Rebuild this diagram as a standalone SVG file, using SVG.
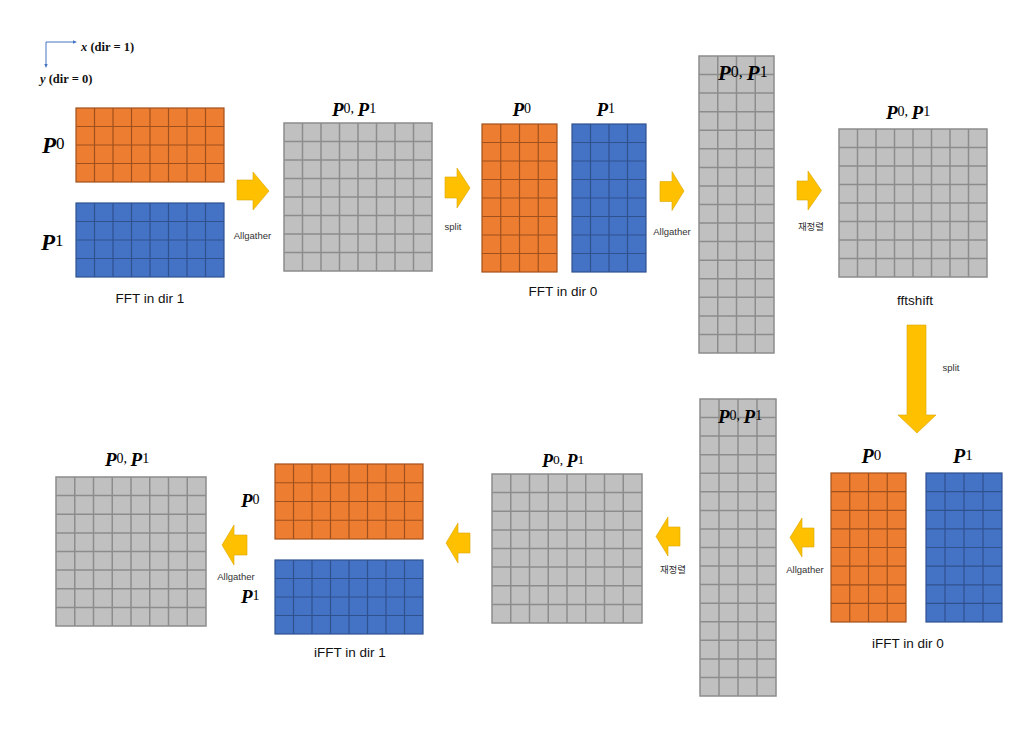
<svg xmlns="http://www.w3.org/2000/svg" width="1024" height="745" viewBox="0 0 1024 745">
<style>
.o{fill:#ED7D31;stroke:#A0501C;stroke-width:1.2}
.b{fill:#4472C4;stroke:#2F528F;stroke-width:1.2}
.g{fill:#C0C0C0;stroke:#8C8C8C;stroke-width:1.5}
.ol{fill:none;stroke:#A0501C;stroke-width:1.2}
.bl{fill:none;stroke:#2F528F;stroke-width:1.2}
.gl{fill:none;stroke:#8C8C8C;stroke-width:1.5}
.arr{fill:#FFC000;stroke:#D9A400;stroke-width:0.6}
.pl{font-family:"Liberation Serif",serif;fill:#000}
.P{font-weight:bold;font-style:italic}
.lab{font-family:"Liberation Sans",sans-serif;font-size:13.5px;fill:#111;text-anchor:middle}
.sm{font-family:"Liberation Sans",sans-serif;font-size:9.5px;fill:#333;text-anchor:middle}
.kr{font-family:"Liberation Sans","Noto Sans CJK KR",sans-serif;font-size:9.5px;fill:#333;text-anchor:middle}
.ax{font-family:"Liberation Serif",serif;font-size:12.5px;font-weight:bold;fill:#111}
</style>

<g id="axes">
<path d="M74 42H46V65" fill="none" stroke="#4472C4" stroke-width="1"/>
<polygon points="77,42 73,40.3 73,43.7" fill="#4472C4"/>
<polygon points="46,68 44.3,64 47.7,64" fill="#4472C4"/>
<text class="ax" x="81" y="51"><tspan font-style="italic">x</tspan> (dir = 1)</text>
<text class="ax" x="40" y="83"><tspan font-style="italic">y</tspan> (dir = 0)</text>
</g>

<g id="fft-dir1-p0">
<rect class="o" x="76" y="108" width="148" height="74"/>
<path class="ol" d="M94.5 108V182M113 108V182M131.5 108V182M150 108V182M168.5 108V182M187 108V182M205.5 108V182M76 126.5H224M76 145H224M76 163.5H224"/>
<text class="pl" x="42" y="153" font-size="23"><tspan class="P">P</tspan><tspan font-size="17" dy="-3.7">0</tspan></text>
</g>
<g id="fft-dir1-p1">
<rect class="b" x="76" y="203" width="148" height="74"/>
<path class="bl" d="M94.5 203V277M113 203V277M131.5 203V277M150 203V277M168.5 203V277M187 203V277M205.5 203V277M76 221.5H224M76 240H224M76 258.5H224"/>
<text class="pl" x="41" y="250" font-size="23"><tspan class="P">P</tspan><tspan font-size="17" dy="-3.7">1</tspan></text>
<text class="lab" x="150" y="303">FFT in dir 1</text>
</g>

<g id="gather1">
<rect class="g" x="284" y="123" width="148" height="148"/>
<path class="gl" d="M302.5 123V271M321 123V271M339.5 123V271M358 123V271M376.5 123V271M395 123V271M413.5 123V271M284 141.5H432M284 160H432M284 178.5H432M284 197H432M284 215.5H432M284 234H432M284 252.5H432"/>
<text class="pl" x="332" y="116" font-size="19"><tspan class="P">P</tspan><tspan font-size="14" dy="-3">0, </tspan><tspan class="P" dy="3">P</tspan><tspan font-size="14" dy="-3">1</tspan></text>
</g>

<g id="fft-dir0-p0">
<rect class="o" x="482" y="124" width="75" height="148"/>
<path class="ol" d="M500.75 124V272M519.5 124V272M538.25 124V272M482 142.5H557M482 161H557M482 179.5H557M482 198H557M482 216.5H557M482 235H557M482 253.5H557"/>
<text class="pl" x="512.5" y="116" font-size="19"><tspan class="P">P</tspan><tspan font-size="14" dy="-3">0</tspan></text>
</g>
<g id="fft-dir0-p1">
<rect class="b" x="572" y="124" width="74" height="148"/>
<path class="bl" d="M590.5 124V272M609 124V272M627.5 124V272M572 142.5H646M572 161H646M572 179.5H646M572 198H646M572 216.5H646M572 235H646M572 253.5H646"/>
<text class="pl" x="596.5" y="116" font-size="19"><tspan class="P">P</tspan><tspan font-size="14" dy="-3">1</tspan></text>
<text class="lab" x="563" y="296">FFT in dir 0</text>
</g>

<g id="gather-tall1">
<rect class="g" x="699" y="56" width="75" height="297"/>
<path class="gl" d="M717.75 56V353M736.5 56V353M755.25 56V353M699 74.6H774M699 93.1H774M699 111.7H774M699 130.3H774M699 148.8H774M699 167.4H774M699 185.9H774M699 204.5H774M699 223.1H774M699 241.6H774M699 260.2H774M699 278.8H774M699 297.3H774M699 315.9H774M699 334.4H774"/>
<text class="pl" x="718" y="80" font-size="21"><tspan class="P">P</tspan><tspan font-size="16" dy="-3.3">0, </tspan><tspan class="P" dy="3.3">P</tspan><tspan font-size="16" dy="-3.3">1</tspan></text>
</g>

<g id="fftshift">
<rect class="g" x="839" y="129" width="148" height="148"/>
<path class="gl" d="M857.5 129V277M876 129V277M894.5 129V277M913 129V277M931.5 129V277M950 129V277M968.5 129V277M839 147.5H987M839 166H987M839 184.5H987M839 203H987M839 221.5H987M839 240H987M839 258.5H987"/>
<text class="pl" x="886" y="119" font-size="19"><tspan class="P">P</tspan><tspan font-size="14" dy="-3">0, </tspan><tspan class="P" dy="3">P</tspan><tspan font-size="14" dy="-3">1</tspan></text>
<text class="lab" x="915" y="305">fftshift</text>
</g>

<g id="ifft-dir0-p0">
<rect class="o" x="831" y="473" width="75" height="149"/>
<path class="ol" d="M849.75 473V622M868.5 473V622M887.25 473V622M831 491.6H906M831 510.3H906M831 528.9H906M831 547.5H906M831 566.1H906M831 584.8H906M831 603.4H906"/>
<text class="pl" x="861.5" y="463" font-size="20"><tspan class="P">P</tspan><tspan font-size="15" dy="-3.2">0</tspan></text>
</g>
<g id="ifft-dir0-p1">
<rect class="b" x="926" y="473" width="76" height="149"/>
<path class="bl" d="M945 473V622M964 473V622M983 473V622M926 491.6H1002M926 510.3H1002M926 528.9H1002M926 547.5H1002M926 566.1H1002M926 584.8H1002M926 603.4H1002"/>
<text class="pl" x="953" y="463" font-size="20"><tspan class="P">P</tspan><tspan font-size="15" dy="-3.2">1</tspan></text>
<text class="lab" x="908" y="648">iFFT in dir 0</text>
</g>

<g id="gather-tall2">
<rect class="g" x="700" y="399" width="76" height="297"/>
<path class="gl" d="M719 399V696M738 399V696M757 399V696M700 417.6H776M700 436.1H776M700 454.7H776M700 473.3H776M700 491.8H776M700 510.4H776M700 528.9H776M700 547.5H776M700 566.1H776M700 584.6H776M700 603.2H776M700 621.8H776M700 640.3H776M700 658.9H776M700 677.4H776"/>
<text class="pl" x="718" y="423" font-size="19"><tspan class="P">P</tspan><tspan font-size="14" dy="-3">0, </tspan><tspan class="P" dy="3">P</tspan><tspan font-size="14" dy="-3">1</tspan></text>
</g>

<g id="reorder2">
<rect class="g" x="492" y="474" width="150" height="149"/>
<path class="gl" d="M510.75 474V623M529.5 474V623M548.25 474V623M567 474V623M585.75 474V623M604.5 474V623M623.25 474V623M492 492.6H642M492 511.3H642M492 529.9H642M492 548.5H642M492 567.1H642M492 585.8H642M492 604.4H642"/>
<text class="pl" x="542" y="467" font-size="18"><tspan class="P">P</tspan><tspan font-size="13.5" dy="-3">0, </tspan><tspan class="P" dy="3">P</tspan><tspan font-size="13.5" dy="-3">1</tspan></text>
</g>

<g id="ifft-dir1-p0">
<rect class="o" x="275" y="464" width="148" height="75"/>
<path class="ol" d="M293.5 464V539M312 464V539M330.5 464V539M349 464V539M367.5 464V539M386 464V539M404.5 464V539M275 482.75H423M275 501.5H423M275 520.25H423"/>
<text class="pl" x="241" y="507" font-size="19"><tspan class="P">P</tspan><tspan font-size="14" dy="-3">0</tspan></text>
</g>
<g id="ifft-dir1-p1">
<rect class="b" x="275" y="560" width="148" height="74"/>
<path class="bl" d="M293.5 560V634M312 560V634M330.5 560V634M349 560V634M367.5 560V634M386 560V634M404.5 560V634M275 578.5H423M275 597H423M275 615.5H423"/>
<text class="pl" x="241" y="603" font-size="19"><tspan class="P">P</tspan><tspan font-size="14" dy="-3">1</tspan></text>
<text class="lab" x="350" y="657">iFFT in dir 1</text>
</g>

<g id="result">
<rect class="g" x="56" y="477" width="150" height="149"/>
<path class="gl" d="M74.75 477V626M93.5 477V626M112.25 477V626M131 477V626M149.75 477V626M168.5 477V626M187.25 477V626M56 495.6H206M56 514.3H206M56 532.9H206M56 551.5H206M56 570.1H206M56 588.8H206M56 607.4H206"/>
<text class="pl" x="105" y="466" font-size="19"><tspan class="P">P</tspan><tspan font-size="14" dy="-3">0, </tspan><tspan class="P" dy="3">P</tspan><tspan font-size="14" dy="-3">1</tspan></text>
</g>

<g id="connectors">
<polygon class="arr" points="237,180 253,180 253,172 269,191 253,210 253,200 237,200"/>
<text class="sm" x="252.5" y="239">Allgather</text>
<polygon class="arr" points="445,177 457,177 457,168 470,188 457,208 457,198 445,198"/>
<text class="sm" x="453" y="230">split</text>
<polygon class="arr" points="660,181.5 672,181.5 672,171.5 684,191 672,210.5 672,201.5 660,201.5"/>
<text class="sm" x="672" y="235">Allgather</text>
<polygon class="arr" points="797,181 808,181 808,171 821.5,190.5 808,210 808,200 797,200"/>
<text class="kr" x="811" y="230">재정렬</text>
<polygon class="arr" points="907,325 926,325 926,415 936,415 917,433 898,415 907,415"/>
<text class="sm" x="951" y="371">split</text>
<polygon class="arr" points="814,528 802,528 802,518 790,537.5 802,557 802,547 814,547"/>
<text class="sm" x="805" y="573">Allgather</text>
<polygon class="arr" points="680,527 668,527 668,517 656,536.5 668,556 668,546 680,546"/>
<text class="kr" x="673" y="573">재정렬</text>
<polygon class="arr" points="470,533 458,533 458,523 446,543 458,563 458,553 470,553"/>
<polygon class="arr" points="247,535 234,535 234,525 222,545 234,565 234,555 247,555"/>
<text class="sm" x="236" y="580">Allgather</text>
</g>
</svg>
